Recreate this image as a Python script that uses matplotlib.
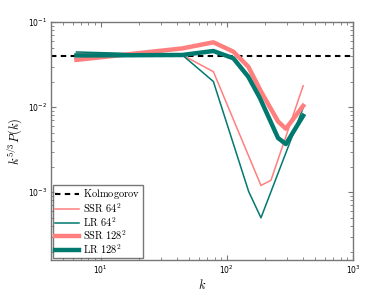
import numpy as np
import matplotlib
matplotlib.use('Agg')
import matplotlib.pyplot as plt

# spectra (k, k^{5/3} P(k))
k_ssr64 = [6.43, 44.4, 78.3, 186.6, 224, 403]
p_ssr64 = [0.0433, 0.0410, 0.0261, 0.00120, 0.00138, 0.0178]

k_lr64 = [6.43, 44.4, 78.3, 149, 186.6, 403]
p_lr64 = [0.0445, 0.0410, 0.0200, 0.00102, 0.000500, 0.00981]

k_ssr128 = [6.43, 44.4, 78.3, 112.7, 148, 186.6, 255, 294, 403]
p_ssr128 = [0.0359, 0.0490, 0.0578, 0.0449, 0.0299, 0.0153, 0.00678, 0.00557, 0.01035]

k_lr128 = [6.43, 44.4, 78.3, 112.7, 148, 183, 255, 294, 403]
p_lr128 = [0.0405, 0.0410, 0.0457, 0.0375, 0.0228, 0.0128, 0.00433, 0.00368, 0.00791]

kolmogorov = 0.0404

pink = '#ff7f7f'
teal = '#00796f'

fig = plt.figure(figsize=(3.9, 2.94), dpi=100)
ax = fig.add_axes([0.131, 0.116, 0.774, 0.809])

ax.axhline(kolmogorov, color='black', ls='--', lw=1.5, dashes=(2.6, 2.1),
           label=r'$\mathrm{Kolmogorov}$')
ax.loglog(k_ssr64, p_ssr64, color=pink, lw=1.1, label=r'$\mathrm{SSR}\ 64^2$')
ax.loglog(k_lr64, p_lr64, color=teal, lw=1.1, label=r'$\mathrm{LR}\ 64^2$')
ax.loglog(k_ssr128, p_ssr128, color=pink, lw=3.2, label=r'$\mathrm{SSR}\ 128^2$')
ax.loglog(k_lr128, p_lr128, color=teal, lw=3.2, label=r'$\mathrm{LR}\ 128^2$')

ax.set_xlim(4.05, 1000)
ax.set_ylim(1.6e-4, 0.1)

for s in ax.spines.values():
    s.set_color('#777777')
    s.set_linewidth(1.0)
ax.tick_params(which='both', direction='in', top=True, right=True,
               color='#777777', labelsize=5.5, pad=3)
ax.tick_params(which='major', length=3.5)
ax.tick_params(which='minor', length=2)

xl = ax.set_xlabel(r'$k$', fontsize=9, labelpad=1)
yl = ax.set_ylabel(r'$k^{5/3}P(k)$', fontsize=9, labelpad=2)
xl.set_math_fontfamily('cm')
yl.set_math_fontfamily('cm')

leg = ax.legend(loc='lower left', fontsize=7.5, frameon=True, fancybox=False,
                borderaxespad=0.2, handlelength=2.3, labelspacing=0.0,
                borderpad=0.2, handletextpad=0.4)
leg.get_frame().set_edgecolor('#555555')
leg.get_frame().set_linewidth(1.0)
for t in leg.get_texts():
    t.set_math_fontfamily('cm')

fig.savefig('out.png', dpi=100)
